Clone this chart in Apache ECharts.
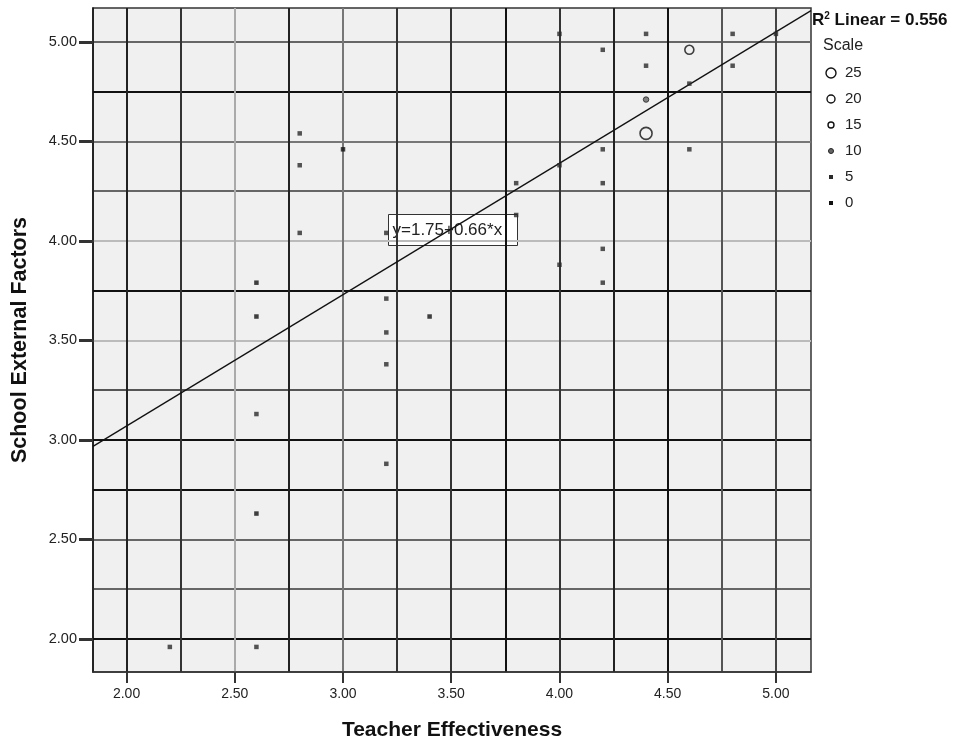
<!DOCTYPE html>
<html><head><meta charset="utf-8">
<script src="https://cdn.jsdelivr.net/npm/echarts@6/dist/echarts.min.js"></script>
<style>html,body{margin:0;padding:0;background:#fff}#c{width:956px;height:744px}</style>
</head><body><div id="c"></div>
<script>
// ---- data ----
const teacherEff = [2.8, 2.8, 3.0, 2.8, 3.2, 3.8, 2.6, 3.2, 2.6, 3.4, 3.2, 3.2, 2.6, 3.2, 2.6, 2.2, 2.6,
  4.0, 4.4, 4.8, 5.0, 4.2, 4.6, 4.4, 4.8, 4.6, 4.4, 4.4, 4.2, 4.6, 4.0, 3.8, 4.2, 4.2, 4.0, 4.2];
const schoolExt = [4.54, 4.38, 4.46, 4.04, 4.04, 4.13, 3.79, 3.71, 3.62, 3.62, 3.54, 3.38, 3.13, 2.88, 2.63, 1.96, 1.96,
  5.04, 5.04, 5.04, 5.04, 4.96, 4.96, 4.88, 4.88, 4.79, 4.71, 4.54, 4.46, 4.46, 4.38, 4.29, 4.29, 3.96, 3.88, 3.79];
const scaleVal = [5, 5, 0, 5, 5, 5, 0, 5, 0, 0, 5, 5, 5, 5, 0, 5, 5,
  5, 5, 5, 5, 5, 20, 5, 5, 5, 10, 25, 5, 5, 5, 5, 5, 5, 5, 5];
const fitIntercept = 1.75;
const fitSlope = 0.66;
const rSquared = 0.556;
const xTickLabels = [2.0, 2.5, 3.0, 3.5, 4.0, 4.5, 5.0];
const yTickLabels = [2.0, 2.5, 3.0, 3.5, 4.0, 4.5, 5.0];
const xGridValues = [2.0, 2.25, 2.5, 2.75, 3.0, 3.25, 3.5, 3.75, 4.0, 4.25, 4.5, 4.75, 5.0];
const yGridValues = [2.0, 2.25, 2.5, 2.75, 3.0, 3.25, 3.5, 3.75, 4.0, 4.25, 4.5, 4.75, 5.0];
const scaleLegend = [25, 20, 15, 10, 5, 0];
const xMin = 1.845, xMax = 5.162, yMin = 1.834, yMax = 5.17;

// ---- styling helpers ----
function symSize(s) { return s >= 25 ? 12 : s >= 20 ? 9 : s >= 15 ? 7 : s >= 10 ? 5.5 : 4.5; }
function itemStyleFor(s) {
  if (s >= 15) return { color: 'rgba(0,0,0,0)', borderColor: '#111', borderWidth: 1.6 };
  if (s >= 10) return { color: '#666', borderColor: '#222', borderWidth: 1 };
  if (s > 0) return { color: '#2a2a2a', borderColor: '#2a2a2a', borderWidth: 0 };
  return { color: '#111', borderColor: '#111', borderWidth: 0 };
}
const pts = teacherEff.map((x, i) => ({
  value: [x, schoolExt[i], scaleVal[i]],
  symbol: scaleVal[i] <= 5 ? 'rect' : 'circle',
  symbolSize: symSize(scaleVal[i]),
  itemStyle: itemStyleFor(scaleVal[i])
}));
const fitLine = [[xMin, fitIntercept + fitSlope * xMin], [xMax, fitIntercept + fitSlope * xMax]];

const xLineColors = ['#222', '#333', '#aaa', '#222', '#777', '#333', '#333', '#111', '#333', '#222', '#111', '#555', '#444'];
const yLineColors = ['#111', '#666', '#666', '#111', '#111', '#555', '#bbb', '#111', '#bbb', '#666', '#777', '#111', '#666'];
const font = 'Liberation Sans, Arial, sans-serif';

// legend graphics
const legendEls = [];
const legendSize = { 25: 10, 20: 8, 15: 6, 10: 5, 5: 4, 0: 4 };
scaleLegend.forEach((s, i) => {
  const cy = 73 + i * 26, cx = 831;
  const st = itemStyleFor(s);
  const d = legendSize[s];
  if (s <= 5) {
    legendEls.push({ type: 'rect', shape: { x: cx - d / 2, y: cy - d / 2, width: d, height: d }, style: { fill: st.color } });
  } else {
    legendEls.push({ type: 'circle', shape: { cx: cx, cy: cy, r: d / 2 },
      style: { fill: st.color, stroke: st.borderColor, lineWidth: s >= 15 ? 1.4 : 1 } });
  }
  legendEls.push({ type: 'text', x: 845, y: cy, style: { text: String(s), font: '15px ' + font, fill: '#222', verticalAlign: 'middle' } });
});

const chart = echarts.init(document.getElementById('c'), null, { renderer: 'canvas' });
chart.setOption({
  animation: false,
  backgroundColor: '#fff',
  grid: { left: 93, right: 145, top: 8, bottom: 72, outerBoundsMode: 'none', containLabel: false,
    show: true, backgroundColor: '#f0f0f0', borderColor: '#333', borderWidth: 1.5 },
  xAxis: [{
    type: 'value', min: xMin, max: xMax,
    name: 'Teacher Effectiveness', nameLocation: 'middle', nameGap: 48,
    nameTextStyle: { fontFamily: font, fontWeight: 'bold', fontSize: 21, color: '#111' },
    axisLine: { show: true, lineStyle: { color: '#333', width: 1.5 } },
    axisTick: { show: false, customValues: xGridValues },
    axisLabel: { customValues: xTickLabels, formatter: v => v.toFixed(2), fontFamily: font, fontSize: 14, color: '#222', margin: 15 },
    splitLine: { show: true, lineStyle: { color: xLineColors, width: 2 } }
  }, {
    type: 'value', min: xMin, max: xMax, position: 'bottom',
    axisLine: { show: false },
    axisTick: { show: true, customValues: xTickLabels, length: 11, lineStyle: { color: '#333', width: 2 } },
    axisLabel: { show: false }, splitLine: { show: false }
  }],
  yAxis: [{
    type: 'value', min: yMin, max: yMax,
    name: 'School External Factors', nameLocation: 'middle', nameGap: 62,
    nameTextStyle: { fontFamily: font, fontWeight: 'bold', fontSize: 21.5, color: '#111' },
    axisLine: { show: true, lineStyle: { color: '#111', width: 1.5 } },
    axisTick: { show: false, customValues: yGridValues },
    axisLabel: { customValues: yTickLabels, formatter: v => v.toFixed(2), fontFamily: font, fontSize: 14.5, color: '#222', margin: 16 },
    splitLine: { show: true, lineStyle: { color: yLineColors, width: 2 } }
  }, {
    type: 'value', min: yMin, max: yMax, position: 'left',
    axisLine: { show: false },
    axisTick: { show: true, customValues: yTickLabels, length: 14, lineStyle: { color: '#333', width: 3 } },
    axisLabel: { show: false }, splitLine: { show: false }
  }],
  series: [{
    type: 'line', data: fitLine, symbol: 'none', silent: true,
    lineStyle: { color: '#111', width: 1.3 }, z: 3
  }, {
    type: 'scatter', data: pts, z: 4
  }],
  graphic: [
    { type: 'group', left: 388, top: 214, children: [
      { type: 'rect', shape: { x: 0, y: 0, width: 129, height: 31 }, style: { fill: '#fff', stroke: '#333', lineWidth: 1 } },
      { type: 'text', x: 4, y: 16, style: { text: 'y=' + fitIntercept.toFixed(2) + '+' + fitSlope.toFixed(2) + '*x', font: '17px ' + font, fill: '#222', verticalAlign: 'middle' } }
    ]},
    { type: 'text', left: 812, top: 11, style: {
      text: '{b|R}{s|2}{b| Linear = ' + rSquared.toFixed(3) + '}',
      rich: { b: { font: 'bold 17px ' + font, fill: '#111', verticalAlign: 'bottom' },
              s: { font: 'bold 10px ' + font, fill: '#111', verticalAlign: 'top', padding: [0, 0, 8, 0] } } } },
    { type: 'text', left: 823, top: 38, style: { text: 'Scale', font: '16px ' + font, fill: '#222' } },
    ...legendEls
  ]
});
</script></body></html>
